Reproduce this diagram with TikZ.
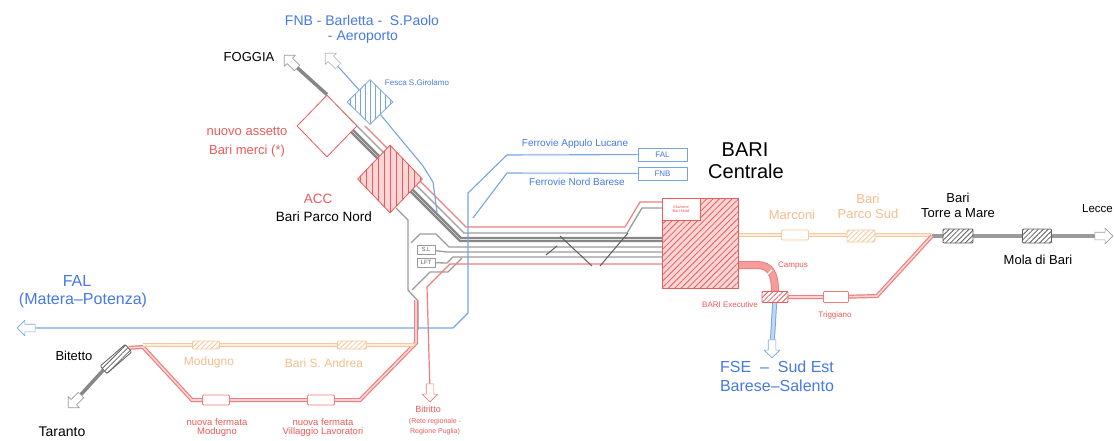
\documentclass[tikz,border=0pt]{standalone}
\usepackage{fontspec}
\setmainfont{Liberation Sans}
\usetikzlibrary{positioning,shapes.geometric,shapes.arrows,patterns.meta}
\pgfdeclarelayer{bg}
\pgfsetlayers{bg,main}

\definecolor{rfired}{RGB}{236,90,90}
\definecolor{rfiline}{RGB}{240,125,125}
\definecolor{rfipale}{RGB}{251,214,214}
\definecolor{falblue}{RGB}{120,165,225}
\definecolor{fnbblue}{RGB}{70,120,230}
\definecolor{oldline}{RGB}{246,200,155}
\definecolor{oldtext}{RGB}{244,188,140}
\definecolor{trackgrey}{RGB}{155,155,155}
\definecolor{darktrack}{RGB}{95,95,95}

\newcommand{\fsz}[1]{\fontsize{#1}{#1}\selectfont}

\tikzset{
  lbl/.style={inner sep=0pt,align=center,font=\fsz{13}},
  redlbl/.style={lbl,text=rfired},
  bluelbl/.style={lbl,text=fnbblue},
  oldlbl/.style={lbl,text=oldtext},
  station/.style={draw=#1,fill=white,rounded corners=1pt,minimum width=27pt,
    minimum height=10pt,inner sep=0pt,line width=0.8pt},
  hstation/.style={station=#1,preaction={fill=white},
    pattern={Lines[angle=45,distance=3.5pt,line width=0.8pt]},pattern color=#1},
  exitarrow/.style={single arrow,draw=#1,fill=white,minimum height=18pt,
    single arrow head extend=4pt,inner sep=3.5pt,line width=0.6pt},
  newline/.style={draw=rfiline,line width=1.2pt,double=rfipale,double distance=1.6pt},
  oldrail/.style={draw=oldline,line width=0.9pt,double=oldline!35,double distance=1.4pt},
  track/.style={draw=trackgrey,line width=1.3pt},
  heavytrack/.style={draw=darktrack!75,line width=2.2pt},
  redtrack/.style={draw=rfiline,line width=1.2pt},
  blueline/.style={draw=falblue,line width=1.1pt},
}

\begin{document}
\begin{tikzpicture}[x=1pt,y=-1pt,line join=round]
\useasboundingbox (0,0) rectangle (1114,441);

% exits
\node[exitarrow=trackgrey,rotate=135] (foggiaexit) at (292,63) {};
\node[exitarrow=trackgrey!70,rotate=135] (fnbexit) at (333,61) {};
\node[exitarrow=falblue,rotate=180] (falexit) at (28,328) {};
\node[exitarrow=trackgrey,rotate=225] (tarantoexit) at (76,400) {};
\node[exitarrow=rfiline,rotate=270] (bitrittoexit) at (430,391) {};
\node[exitarrow=falblue,rotate=270] (fseexit) at (772,347) {};
\node[exitarrow=trackgrey] (lecceexit) at (1102,236) {};

% yards
\node[diamond,draw=rfired,line width=0.8pt,fill=white,minimum width=60pt,minimum height=62pt,inner sep=0pt] (merci) at (327,126) {};
\node[diamond,draw=rfired,line width=0.8pt,preaction={fill=rfipale},pattern={Lines[angle=90,distance=6pt,line width=0.8pt]},pattern color=rfired,minimum width=65pt,minimum height=68pt,inner sep=0pt] (acc) at (390,179) {};
\node[diamond,draw=falblue,line width=0.8pt,preaction={fill=white},pattern={Lines[angle=90,distance=5pt,line width=0.8pt]},pattern color=falblue,minimum width=46pt,minimum height=45pt,inner sep=0pt] (fesca) at (370,102) {};
\node[draw=rfired,line width=0.9pt,preaction={fill=rfipale},pattern={Lines[angle=45,distance=4.5pt,line width=0.8pt]},pattern color=rfired,minimum width=76pt,minimum height=90pt,inner sep=0pt] (bariblock) at (700,243) {};
\node[draw=rfired,fill=white,line width=0.8pt,minimum width=38pt,minimum height=22pt,inner sep=0pt,anchor=north west,text=rfired,font=\fsz{4},align=center] (nordbox) at (bariblock.north west) {Stazione\\Bari Nord};
\node[draw=falblue,line width=0.8pt,fill=white,minimum width=49pt,minimum height=13pt,inner sep=0pt,text=fnbblue,font=\fsz{8}] (falbox) at (662.5,154.5) {FAL};
\node[draw=falblue,line width=0.8pt,fill=white,minimum width=49pt,minimum height=13pt,inner sep=0pt,text=fnbblue,font=\fsz{8}] (fnbbox) at (662.5,173.5) {FNB};
\node[draw=trackgrey,line width=0.7pt,fill=white,minimum width=18pt,minimum height=9pt,inner sep=0pt,text=darktrack,font=\fsz{6}] (slbox) at (426,249.5) {S.L};
\node[draw=trackgrey,line width=0.7pt,fill=white,minimum width=18pt,minimum height=9pt,inner sep=0pt,text=darktrack,font=\fsz{6}] (lftbox) at (426,262.5) {LFT};

% stations
\node[hstation=darktrack,rotate=41,minimum width=33pt] (bitettost) at (116,359) {};
\node[station=rfiline] (nfmodugno) at (216,400) {};
\node[station=rfiline] (nfvillaggio) at (321,400) {};
\node[hstation=oldline,minimum height=8pt] (modugnost) at (206,345) {};
\node[hstation=oldline,minimum height=8pt,minimum width=29pt] (andreast) at (352,345) {};
\node[station=oldline] (marconist) at (795,235) {};
\node[hstation=oldline,minimum height=12pt,minimum width=28pt] (parcosudst) at (861,236) {};
\node[hstation=darktrack,minimum height=14pt,minimum width=30pt] (torreamarest) at (958,236) {};
\node[hstation=darktrack,minimum height=14pt,minimum width=29pt] (molast) at (1037,236) {};
\node[station=rfiline,minimum width=25pt,minimum height=11pt] (triggianost) at (836,297) {};
\node[hstation=rfired,minimum width=26pt,minimum height=11pt] (execst) at (775,297) {};

\begin{pgfonlayer}{bg}
% Foggia and the junction
\draw[heavytrack,line width=3.5pt] (foggiaexit) -- (merci.north);
\draw[track] (336,105) -- (464,233) -- (627,233) -- (642,208) -- (662,208);
\draw[heavytrack] (334,111) -- (461,238) -- (662,238);
\draw[heavytrack] (334,115) -- (460,241) -- (662,241);
\draw[redtrack] (365,126) -- (466,227) -- (625,227) -- (640,202) -- (662,202);
\draw[track] (396,208) -- (408,220) -- (408,290) -- (418,301) -- (418,330);
\draw[track] (411,243) -- (420,234) -- (436,234) -- (449,247) -- (662,247);
\draw[track] (slbox) -- (447,252) -- (662,252);
\draw[track] (lftbox) -- (447,263) -- (453,257) -- (662,257);
\draw[track] (412,290) -- (430,272) -- (448,272) -- (462,258);
\draw[redtrack] (bitrittoexit) -- (427,287) -- (450,264) -- (662,264);
\draw[darktrack,line width=1pt] (546,255) -- (557,246) (560,236) -- (592,266) (600,266) -- (628,233);
% FAL and FNB
\draw[blueline] (falexit) -- (453,328) -- (468,313) -- (468,193) -- (507,155) -- (falbox);
\draw[blueline] (473,218) -- (507,173) -- (fnbbox);
\draw[blueline] (fnbexit) -- (fesca);
\draw[blueline] (fesca) -- (423,166) -- (433,182) -- (437,212);
% towards Lecce
\draw[oldrail] (738,235) -- (932,235);
\draw[draw=trackgrey,line width=4pt] (932,236) -- (lecceexit);
\draw[newline] (932,236) -- (877,296) -- (triggianost) -- (execst);
\draw[draw=rfiline,line width=1pt,double=rfiline!75,double distance=6pt] (738,265) -- (757,265) .. controls (771,265) and (775,275) .. (execst.north);
\draw[white,line width=1.3pt] (763,279) -- (772,270);
\draw[draw=falblue,line width=1pt,double=falblue!45,double distance=3pt] (execst) -- (fseexit);
% towards Taranto
\draw[heavytrack,line width=3.5pt] (tarantoexit) -- (bitettost.west);
\draw[newline] (bitettost.east) -- (143,347) -- (192,400) -- (360,400) -- (416,343) -- (416,300);
\draw[oldrail] (143,345) -- (414,345);
\end{pgfonlayer}

% labels
\node[bluelbl,font=\fsz{14}] (fnbtitle) at (362,20) {FNB - Barletta - \ S.Paolo};
\node[bluelbl,font=\fsz{14}] (fnbaero) at (363,37) {- Aeroporto};
\node[lbl] (foggia) at (249,57) {FOGGIA};
\node[bluelbl,font=\fsz{8}] (fescalbl) at (417,83) {Fesca S.Girolamo};
\node[redlbl] (mercilbl) at (247,142) {nuovo assetto\\[6pt]Bari merci (*)};
\node[redlbl,font=\fsz{13.5}] (acclbl) at (318,199) {ACC};
\node[lbl,font=\fsz{13.5}] (parconord) at (324,217) {Bari Parco Nord};
\node[bluelbl,font=\fsz{10}] (appulo) at (575,144) {Ferrovie Appulo Lucane};
\node[bluelbl,font=\fsz{10}] (nordbarese) at (577,182) {Ferrovie Nord Barese};
\node[lbl,font=\fsz{20}] (barilbl) at (745,150) {BARI};
\node[lbl,font=\fsz{20}] (centrale) at (746,171) {Centrale};
\node[oldlbl] (marconi) at (792,215) {Marconi};
\node[oldlbl] (parcosud) at (868,206) {Bari\\[2pt]Parco Sud};
\node[lbl] (torreamare) at (958,205) {Bari\\[2pt]Torre a Mare};
\node[lbl] (mola) at (1038,260) {Mola di Bari};
\node[lbl,font=\fsz{11.5},anchor=east] (lecce) at (1113,209) {Lecce};
\node[redlbl,font=\fsz{8}] (campus) at (793,266) {Campus};
\node[redlbl,font=\fsz{8}] (executive) at (730,305) {BARI Executive};
\node[redlbl,font=\fsz{8}] (triggiano) at (835,315) {Triggiano};
\node[bluelbl,font=\fsz{16}] (fse) at (777,376) {FSE \ -- \ Sud Est\\[3pt]Barese--Salento};
\node[bluelbl,font=\fsz{16}] (fal) at (77,281) {FAL};
\node[bluelbl,font=\fsz{16}] (matera) at (83,300) {(Matera--Potenza)};
\node[oldlbl,font=\fsz{12}] (modugno) at (209,362) {Modugno};
\node[oldlbl,font=\fsz{12}] (santandrea) at (324,363) {Bari S. Andrea};
\node[redlbl,font=\fsz{9.5},anchor=north] (nfmodugnolbl) at (217,418) {nuova fermata\\Modugno};
\node[redlbl,font=\fsz{9.5},anchor=north] (nfvillaggiolbl) at (323,418) {nuova fermata\\Villaggio Lavoratori};
\node[redlbl,font=\fsz{9}] (bitritto) at (428,409) {Bitritto};
\node[redlbl,font=\fsz{7}] (reteregionale) at (435,427) {(Rete regionale -\\[3pt]Regione Puglia)};
\node[lbl] (bitetto) at (74,356) {Bitetto};
\node[lbl,font=\fsz{14}] (taranto) at (62,432) {Taranto};
\end{tikzpicture}
\end{document}
